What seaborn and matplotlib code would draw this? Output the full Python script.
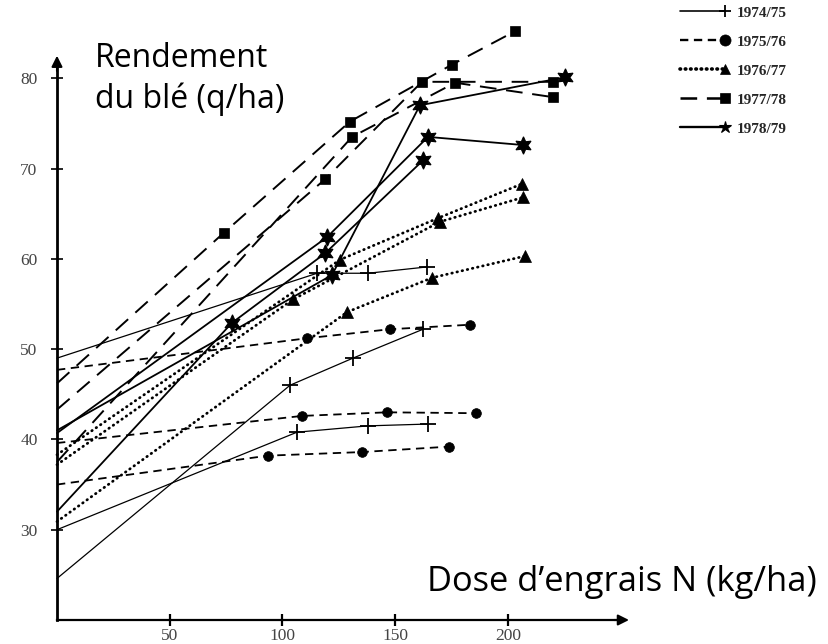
import numpy as np
import pandas as pd
import matplotlib
matplotlib.use("Agg")
import matplotlib.pyplot as plt
import seaborn as sns
from matplotlib.lines import Line2D
from matplotlib.legend_handler import HandlerLine2D

# ---------------- data (N dose kg/ha, wheat yield q/ha) ----------------
years = ["1974/75", "1975/76", "1976/77", "1977/78", "1978/79"]

# 1974/75
dose_74a = [0, 115.4, 138.0, 164.2]
yld_74a = [49.0, 58.4, 58.4, 59.1]
dose_74b = [0, 103.4, 131.3, 162.4]
yld_74b = [24.6, 46.0, 49.0, 52.2]
dose_74c = [0, 106.5, 138.0, 164.6]
yld_74c = [30.0, 40.8, 41.5, 41.7]

# 1975/76
dose_75a = [0, 110.9, 147.7, 183.2]
yld_75a = [47.7, 51.2, 52.2, 52.7]
dose_75b = [0, 108.7, 146.4, 185.9]
yld_75b = [39.6, 42.6, 43.0, 42.9]
dose_75c = [0, 93.6, 135.3, 173.9]
yld_75c = [35.0, 38.2, 38.6, 39.2]

# 1976/77
dose_76a = [0, 125.6, 169.0, 206.3]
yld_76a = [38.3, 59.9, 64.5, 68.3]
dose_76b = [0, 104.7, 169.9, 206.7]
yld_76b = [37.2, 55.5, 64.1, 66.8]
dose_76c = [0, 128.7, 166.4, 207.6]
yld_76c = [30.9, 54.1, 57.9, 60.3]

# 1977/78
dose_77a = [0, 74.1, 130.0, 175.2, 203.2]
yld_77a = [46.2, 62.9, 75.2, 81.5, 85.2]
dose_77b = [0, 118.9, 161.9, 220.1]
yld_77b = [43.3, 68.8, 79.6, 79.6]
dose_77c = [0, 130.9, 176.6, 220.1]
yld_77c = [37.5, 73.5, 79.5, 77.9]

# 1978/79
dose_78a = [0, 119.8, 164.6, 206.7]
yld_78a = [40.7, 62.4, 73.5, 72.6]
dose_78b = [0, 77.6, 118.9, 162.4]
yld_78b = [32.0, 52.9, 60.6, 70.9]
dose_78c = [0, 122.0, 161.0, 225.4]
yld_78c = [41.0, 58.2, 77.0, 80.1]

y_ticks = [30, 40, 50, 60, 70, 80]
x_ticks = [50, 100, 150, 200]

series = {
    "1974/75": [(dose_74a, yld_74a), (dose_74b, yld_74b), (dose_74c, yld_74c)],
    "1975/76": [(dose_75a, yld_75a), (dose_75b, yld_75b), (dose_75c, yld_75c)],
    "1976/77": [(dose_76a, yld_76a), (dose_76b, yld_76b), (dose_76c, yld_76c)],
    "1977/78": [(dose_77a, yld_77a), (dose_77b, yld_77b), (dose_77c, yld_77c)],
    "1978/79": [(dose_78a, yld_78a), (dose_78b, yld_78b), (dose_78c, yld_78c)],
}
rows = []
for yr, trials in series.items():
    for k, (d, y) in enumerate(trials):
        for dv, yv in zip(d, y):
            rows.append(dict(year=yr, trial=f"{yr}-{k}", dose=dv, yld=yv))
df = pd.DataFrame(rows)

# ---------------- style ----------------
sns.set_theme(style="white")
plt.rcParams["font.family"] = ["Liberation Serif", "DejaVu Serif"]
plt.rcParams["lines.scale_dashes"] = False

styles = {
    "1974/75": dict(marker="+", markersize=11, markeredgewidth=1.3, linestyle="-", linewidth=0.9),
    "1975/76": dict(marker="o", markersize=7, markeredgewidth=0.5, linestyle=(0, (6, 4)), linewidth=1.3),
    "1976/77": dict(marker="^", markersize=8, markeredgewidth=0.5, linestyle=(0, (0.4, 3.4)),
                    linewidth=2.0, dash_capstyle="round"),
    "1977/78": dict(marker="s", markersize=6.5, markeredgewidth=0.5, linestyle=(0, (12, 7)), linewidth=1.4),
    "1978/79": dict(marker=(6, 1, 0), markersize=12.5, markeredgewidth=0.8, linestyle="-", linewidth=1.3),
}

W, H = 829, 644
fig = plt.figure(figsize=(W / 100, H / 100), dpi=100)
ax = fig.add_axes([0, 0, 1, 1])

for yr in years:
    sub = df[df["year"] == yr]
    sns.lineplot(data=sub, x="dose", y="yld", units="trial", estimator=None, sort=False,
                 color="black", markeredgecolor="black", markerfacecolor="black",
                 markevery=slice(1, None), legend=False, ax=ax, **styles[yr])

# pixel mapping of the scan: x 0 at px 57 (2.254 px/unit), y 20 at px 620 (9.03 px/unit)
ax.set_xlim(-57 / 2.254, (W - 57) / 2.254)
ax.set_ylim(20 - (H - 620) / 9.03, 20 + 620 / 9.03)
ax.set_xlabel("")
ax.set_ylabel("")

for s in ["top", "right"]:
    ax.spines[s].set_visible(False)
ax.spines["left"].set_position(("data", 0))
ax.spines["bottom"].set_position(("data", 20))
ax.spines["left"].set_bounds(20, 81.5)
ax.spines["bottom"].set_bounds(0, 250)
ax.spines["left"].set_linewidth(2.0)
ax.spines["bottom"].set_linewidth(1.6)
ax.spines["left"].set_color("black")
ax.spines["bottom"].set_color("black")

ax.annotate("", xy=(0, 82.8), xytext=(0, 80.5),
            arrowprops=dict(arrowstyle="-|>", color="black", lw=1.5, mutation_scale=16))
ax.annotate("", xy=(255, 20), xytext=(246, 20),
            arrowprops=dict(arrowstyle="-|>", color="black", lw=1.5, mutation_scale=16))

ax.set_yticks(y_ticks)
ax.set_yticklabels([str(v) for v in y_ticks])
ax.set_xticks(x_ticks)
ax.set_xticklabels([str(v) for v in x_ticks])
ax.tick_params(axis="y", direction="inout", length=8, width=1.2, pad=10,
               labelsize=12.5, labelcolor="#444444", color="black", left=True)
ax.tick_params(axis="x", direction="inout", length=9, width=1.6, pad=1,
               labelsize=12.5, labelcolor="#444444", color="black", bottom=True)

# axis titles
big = dict(family=["Open Sans", "DejaVu Sans"], color="black")
fig.text(95 / W, 1 - 67 / H, "Rendement", va="baseline", ha="left", fontsize=23, **big)
fig.text(95 / W, 1 - 108 / H, "du blé (q/ha)", va="baseline", ha="left", fontsize=23, **big)
fig.text(427 / W, 1 - 591 / H, "Dose d\u2019engrais N (kg/ha)", va="baseline", ha="left",
         fontsize=24.8, **big)

# legend with marker at the right end of the line
class EndMarker(HandlerLine2D):
    def create_artists(self, legend, orig_handle, xdescent, ydescent, width, height, fontsize, trans):
        arts = super().create_artists(legend, orig_handle, xdescent, ydescent, width, height, fontsize, trans)
        for a in arts:
            n = len(a.get_xdata())
            a.set_markevery([n - 1])
        return arts

leg_sizes = {"1974/75": 8, "1975/76": 8, "1976/77": 7.5, "1977/78": 7, "1978/79": 9}
handles = []
for yr in years:
    st = dict(styles[yr])
    st["markersize"] = leg_sizes[yr]
    st["linewidth"] = st["linewidth"] * 1.3
    if yr == "1978/79":
        st["marker"] = "*"
    handles.append(Line2D([], [], color="black", markeredgecolor="black",
                          markerfacecolor="black", **st))
fig.legend(handles, years, loc="upper left", bbox_to_anchor=(675 / W, 1 - 6 / H),
           bbox_transform=fig.transFigure, frameon=False, numpoints=2,
           handlelength=3.6, handletextpad=0.45, labelspacing=1.0, borderpad=0,
           borderaxespad=0, prop=dict(family="Liberation Serif", weight="bold", size=11),
           handler_map={Line2D: EndMarker()})

fig.savefig("out.png", dpi=100)
